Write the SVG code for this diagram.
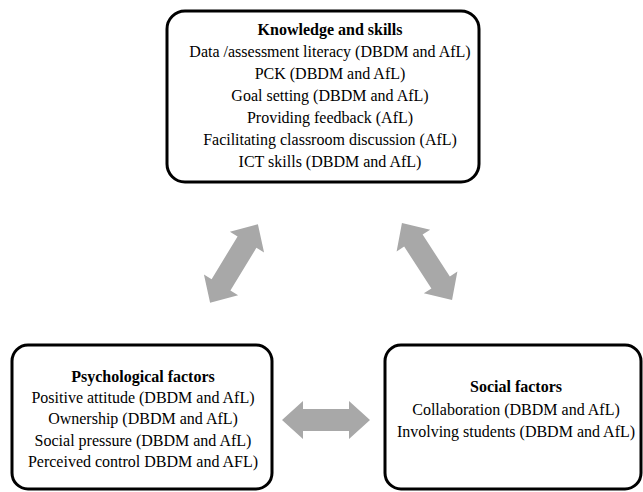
<svg xmlns="http://www.w3.org/2000/svg" width="643" height="492" viewBox="0 0 643 492">
<style>
.box{fill:#fff;stroke:#000;stroke-width:3}
.t{font-family:"Liberation Serif","Times New Roman",serif;font-size:16px;fill:#000;text-anchor:middle}
.b{font-weight:bold}
.arr{fill:#a8a8a8}
</style>
<rect width="643" height="492" fill="#fff"/>
<g id="knowledge">
<rect class="box" x="167" y="11" width="312" height="171" rx="18"/>
<text class="t b" x="330" y="35">Knowledge and skills</text>
<text class="t" x="330" y="57">Data /assessment literacy (DBDM and AfL)</text>
<text class="t" x="330" y="79">PCK (DBDM and AfL)</text>
<text class="t" x="330" y="101">Goal setting (DBDM and AfL)</text>
<text class="t" x="330" y="123">Providing feedback (AfL)</text>
<text class="t" x="330" y="145">Facilitating classroom discussion (AfL)</text>
<text class="t" x="330" y="167">ICT skills (DBDM and AfL)</text>
</g>
<g id="psychological">
<rect class="box" x="12" y="345" width="260" height="144" rx="16"/>
<text class="t b" x="143" y="382">Psychological factors</text>
<text class="t" x="143" y="403">Positive attitude (DBDM and AfL)</text>
<text class="t" x="143" y="424">Ownership (DBDM and AfL)</text>
<text class="t" x="143" y="446">Social pressure (DBDM and AfL)</text>
<text class="t" x="143" y="467">Perceived control DBDM and AFL)</text>
</g>
<g id="social">
<rect class="box" x="385" y="345" width="256" height="144" rx="16"/>
<text class="t b" x="516" y="392">Social factors</text>
<text class="t" x="516" y="415">Collaboration (DBDM and AfL)</text>
<text class="t" x="516" y="437">Involving students (DBDM and AfL)</text>
</g>
<g id="connectors">
<path class="arr" transform="translate(326,420)" d="M-44 0 L-23 -19 L-23 -11 L23 -11 L23 -19 L44 0 L23 19 L23 11 L-23 11 L-23 19 Z"/>
<path class="arr" transform="translate(234,263.5) rotate(-58.7)" d="M-46 0 L-25 -20 L-25 -11 L25 -11 L25 -20 L46 0 L25 20 L25 11 L-25 11 L-25 20 Z"/>
<path class="arr" transform="translate(427,261.5) rotate(57)" d="M-46 0 L-25 -20 L-25 -11 L25 -11 L25 -20 L46 0 L25 20 L25 11 L-25 11 L-25 20 Z"/>
</g>
</svg>
